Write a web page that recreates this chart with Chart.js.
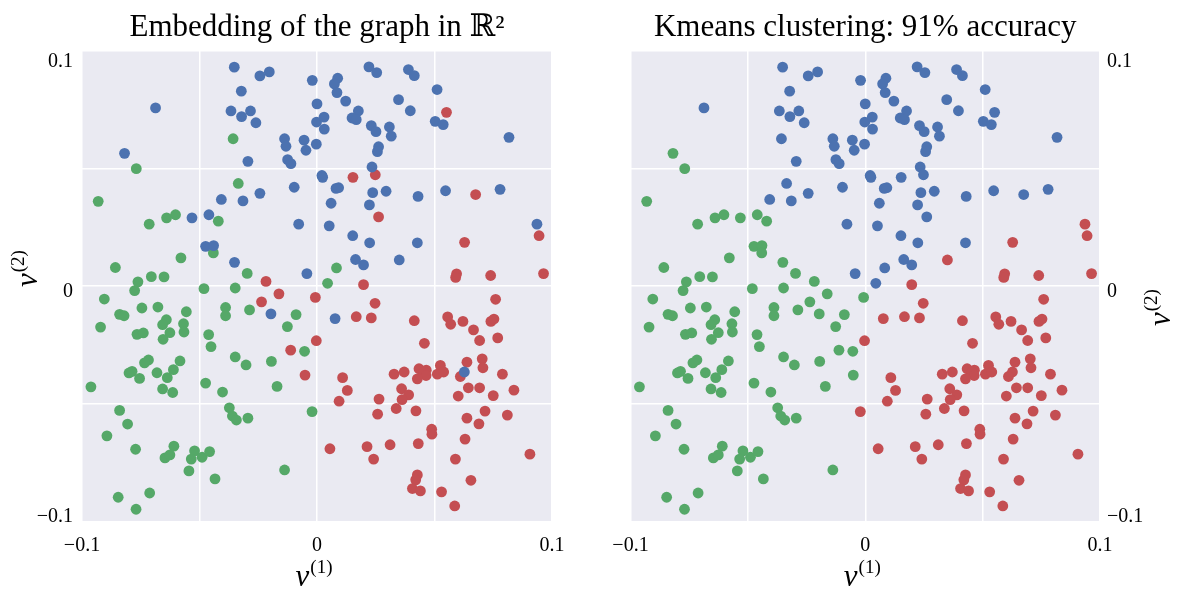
<!DOCTYPE html>
<html>
<head>
<meta charset="utf-8">
<script src="https://cdn.jsdelivr.net/npm/chart.js@4/dist/chart.umd.min.js"></script>
<style>
html, body { margin: 0; padding: 0; background: #ffffff; }
#wrap { position: relative; width: 1178px; height: 590px; overflow: hidden; }
.cell { position: absolute; top: 0; width: 589px; height: 590px; }
</style>
</head>
<body>
<div id="wrap">
  <div class="cell" style="left:0px"><canvas id="c1" width="589" height="590"></canvas></div>
  <div class="cell" style="left:589px"><canvas id="c2" width="589" height="590"></canvas></div>
</div>
<script>
// ---------------- data ----------------
const chartTitles = ['Embedding of the graph in \u211D\u00B2', 'Kmeans clustering: 91% accuracy'];
const tickValues = [-0.1, 0, 0.1];
const clusterNames = ['cluster 1', 'cluster 2', 'cluster 3'];

// true cluster 1 (blue)
const blueX = [
  -0.0352,-0.0243,-0.0203,-0.0020,-0.0687,-0.0322,0.0000,-0.0366,-0.0283,-0.0321,
  -0.0260,-0.0002,-0.0138,-0.0055,-0.0003,-0.0132,-0.0047,-0.0819,-0.0294,-0.0125,
  -0.0111,-0.0097,-0.0243,-0.0407,-0.0315,-0.0532,-0.0460,-0.0078,-0.0474,-0.0440,
  -0.0351,-0.0043,
  0.0221,0.0254,0.0389,0.0414,0.0088,0.0074,0.0085,0.0511,0.0122,0.0347,
  0.0176,0.0397,0.0030,0.0149,0.0167,0.0231,0.0251,0.0308,0.0316,0.0031,
  0.0503,0.0537,0.0817,0.0262,0.0257,0.0234,0.0021,0.0024,0.0081,0.0092,
  0.0237,0.0294,0.0430,0.0547,0.0779,0.0060,0.0223,0.0052,0.0152,0.0224,
  0.0427,0.0936,0.0164,0.0198,0.0350,-0.0196,0.0077,0.0627
];
const blueY = [
  0.0930,0.0893,0.0910,0.0874,0.0757,0.0828,0.0774,0.0744,0.0744,0.0720,
  0.0694,0.0697,0.0626,0.0620,0.0603,0.0594,0.0577,0.0564,0.0530,0.0537,
  0.0520,0.0420,0.0394,0.0368,0.0362,0.0290,0.0303,0.0263,0.0169,0.0172,
  0.0101,0.0053,
  0.0931,0.0907,0.0920,0.0894,0.0883,0.0859,0.0822,0.0835,0.0786,0.0792,
  0.0744,0.0745,0.0718,0.0714,0.0707,0.0682,0.0656,0.0676,0.0637,0.0667,
  0.0700,0.0686,0.0632,0.0592,0.0571,0.0506,0.0470,0.0462,0.0415,0.0418,
  0.0397,0.0403,0.0381,0.0405,0.0411,0.0352,0.0345,0.0256,0.0214,0.0184,
  0.0184,0.0263,0.0113,0.0090,0.0111,-0.0118,-0.0138,-0.0365
];
const blueKmeans = [
  0,0,0,0,0,0,0,0,0,0, 0,0,0,0,0,0,0,1,0,0, 0,0,0,0,0,1,1,0,1,1, 1,0,
  0,0,0,0,0,0,0,0,0,0, 0,0,0,0,0,0,0,0,0,0, 0,0,0,0,0,0,0,0,0,0,
  0,0,0,0,0,0,0,0,0,0, 0,2,0,0,2,1,2,2
];

// true cluster 2 (green)
const greenX = [
  -0.0357,-0.0769,-0.0335,-0.0931,-0.0640,-0.0602,-0.0714,-0.0420,-0.0441,-0.0579,
  -0.0858,-0.0705,-0.0651,-0.0762,-0.0297,0.0083,0.0045,
  -0.0776,-0.0481,-0.0348,-0.0905,-0.0840,-0.0821,-0.0745,-0.0677,-0.0556,-0.0921,
  -0.0641,-0.0657,-0.0568,-0.0566,-0.0766,-0.0739,-0.0626,-0.0655,-0.0389,-0.0389,
  -0.0287,-0.0089,-0.0126,-0.0461,-0.0451,-0.0053,-0.0348,-0.0302,-0.0194,-0.0717,
  -0.0734,-0.0583,-0.0611,-0.0800,-0.0787,-0.0681,-0.0755,-0.0637,-0.0962,-0.0657,
  -0.0614,-0.0474,-0.0402,-0.0170,-0.0840,-0.0806,-0.0894,-0.0772,-0.0609,-0.0647,
  -0.0626,-0.0521,-0.0535,-0.0489,-0.0457,-0.0545,-0.0434,-0.0373,-0.0360,-0.0343,
  -0.0294,-0.0021,-0.0138,-0.0846,-0.0712,-0.0770
];
const greenY = [
  0.0626,0.0499,0.0436,0.0360,0.0290,0.0303,0.0263,0.0276,0.0141,0.0120,
  0.0079,0.0040,0.0039,0.0018,0.0054,0.0077,0.0012,
  -0.0019,-0.0011,-0.0008,-0.0055,-0.0120,-0.0126,-0.0093,-0.0089,-0.0109,-0.0174,
  -0.0143,-0.0164,-0.0160,-0.0195,-0.0205,-0.0199,-0.0198,-0.0226,-0.0091,-0.0126,
  -0.0101,-0.0121,-0.0172,-0.0206,-0.0257,-0.0277,-0.0301,-0.0335,-0.0320,-0.0314,
  -0.0326,-0.0318,-0.0355,-0.0369,-0.0362,-0.0368,-0.0392,-0.0389,-0.0428,-0.0437,
  -0.0452,-0.0412,-0.0450,-0.0426,-0.0528,-0.0586,-0.0636,-0.0693,-0.0680,-0.0730,
  -0.0717,-0.0700,-0.0735,-0.0727,-0.0703,-0.0785,-0.0819,-0.0517,-0.0552,-0.0569,
  -0.0561,-0.0533,-0.0781,-0.0897,-0.0879,-0.0948
];
const greenKmeans = [
  0,1,0,1,1,1,1,1,1,1, 1,1,1,1,1,0,0,
  1,1,1,1,1,1,1,1,1,1, 1,1,1,1,1,1,1,1,1,1, 1,1,1,1,1,1,1,1,1,1,
  1,1,1,1,1,1,1,1,1,1, 1,1,1,1,1,1,1,1,1,1, 1,1,1,1,1,1,1,1,1,1,
  1,2,1,1,1,1
];

// true cluster 3 (red)
const redX = [
  -0.0217,0.0551,0.0153,0.0248,0.0675,0.0262,0.0628,0.0945,0.0594,0.0590,
  0.0739,0.0964,0.0198,-0.0236,-0.0162,-0.0007,-0.0003,-0.0112,-0.0051,
  0.0247,0.0760,0.0167,0.0231,0.0414,0.0556,0.0569,0.0621,0.0666,0.0740,
  0.0753,0.0692,0.0769,0.0457,0.0703,0.0638,0.0706,0.0525,0.0434,0.0465,
  0.0454,0.0464,0.0427,0.0512,0.0539,0.0610,0.0328,0.0371,0.0789,0.0109,
  0.0129,0.0094,0.0264,0.0360,0.0390,0.0362,0.0337,0.0421,0.0258,0.0644,
  0.0692,0.0601,0.0750,0.0838,0.0715,0.0638,0.0689,0.0810,0.0488,0.0489,
  0.0630,0.0055,0.0213,0.0311,0.0431,0.0241,0.0589,0.0906,0.0427,0.0420,
  0.0406,0.0440,0.0530,0.0655,0.0586
];
const redY = [
  0.0020,0.0738,0.0462,0.0473,0.0389,0.0294,0.0186,0.0214,0.0052,0.0037,
  0.0045,0.0053,0.0006,-0.0067,-0.0033,-0.0048,-0.0232,-0.0272,-0.0378,
  -0.0073,-0.0056,-0.0130,-0.0135,-0.0147,-0.0131,-0.0162,-0.0150,-0.0186,-0.0150,
  -0.0140,-0.0231,-0.0220,-0.0243,-0.0309,-0.0323,-0.0347,-0.0337,-0.0351,-0.0357,
  -0.0365,-0.0380,-0.0394,-0.0374,-0.0365,-0.0384,-0.0374,-0.0365,-0.0374,-0.0389,
  -0.0443,-0.0489,-0.0480,-0.0436,-0.0462,-0.0482,-0.0520,-0.0530,-0.0544,-0.0432,
  -0.0432,-0.0467,-0.0465,-0.0442,-0.0531,-0.0561,-0.0585,-0.0548,-0.0608,-0.0629,
  -0.0650,-0.0691,-0.0682,-0.0674,-0.0669,-0.0735,-0.0735,-0.0714,-0.0802,-0.0823,
  -0.0860,-0.0870,-0.0874,-0.0825,-0.0934
];
const redKmeans = [
  1,0,0,0,0,0,2,2,2,2, 2,2,2,1,1,1,2,1,1,
  2,2,2,2,2,2,2,2,2,2, 2,2,2,2,2,2,2,2,2,2, 2,2,2,2,2,2,2,2,2,2,
  2,2,2,2,2,2,2,2,2,2, 2,2,2,2,2,2,2,2,2,2, 2,2,2,2,2,2,2,2,2,2,
  2,2,2,2,2
];

// ---------------- styling ----------------
const clusterColors = ['#4C72B0', '#55A868', '#C44E52'];
const FONT = '"Liberation Serif", "DejaVu Serif", serif';

const allX = blueX.concat(greenX, redX);
const allY = blueY.concat(greenY, redY);
const trueLabels = blueX.map(() => 0).concat(greenX.map(() => 1), redX.map(() => 2));
const kmLabels = blueKmeans.concat(greenKmeans, redKmeans);

function tickLabel(v) {
  const r = Math.round(v * 20);
  if (r % 2 !== 0) return '';
  if (r === 0) return '0';
  return (r < 0 ? '\u2212' : '') + (Math.abs(r) / 20).toString();
}

function buildDatasets(labels) {
  return [0, 1, 2].map(c => ({
    label: clusterNames[c],
    data: allX.map((x, i) => ({ x: x, y: allY[i], c: labels[i] })).filter(p => p.c === c),
    backgroundColor: clusterColors[c],
    borderWidth: 0,
    pointRadius: 5.4,
    pointHoverRadius: 5.4
  }));
}

const bgPlugin = {
  id: 'plotBg',
  beforeDraw(chart) {
    const { ctx, chartArea: a } = chart;
    ctx.save();
    ctx.fillStyle = '#EAEAF2';
    ctx.fillRect(a.left, a.top, a.right - a.left, a.bottom - a.top);
    ctx.restore();
  }
};

function drawNuLabel(ctx, sup) {
  ctx.font = 'italic 31px ' + FONT;
  ctx.textAlign = 'left';
  ctx.textBaseline = 'alphabetic';
  ctx.fillText('\u03BD', 0, 0);
  const w = ctx.measureText('\u03BD').width;
  ctx.font = '19px ' + FONT;
  ctx.fillText('(' + sup + ')', w + 1, -13);
}
function nuWidth(ctx, sup) {
  ctx.font = 'italic 31px ' + FONT;
  const w = ctx.measureText('\u03BD').width;
  ctx.font = '19px ' + FONT;
  return w + 1 + ctx.measureText('(' + sup + ')').width;
}

function labelPlugin(side) {
  return {
    id: 'labels_' + side,
    afterDraw(chart) {
      const { ctx, chartArea: a, scales } = chart;
      ctx.save();
      ctx.fillStyle = '#000';
      // y tick labels
      ctx.font = '20px ' + FONT;
      ctx.textBaseline = 'alphabetic';
      const offs = { '-2': 0, '0': 10.5, '2': 16 };
      tickValues.forEach(v => {
        const y = scales.y.getPixelForValue(v) + offs[String(Math.round(v * 20))];
        if (side === 'left') { ctx.textAlign = 'right'; ctx.fillText(tickLabel(v), a.left - 9, y); }
        else { ctx.textAlign = 'left'; ctx.fillText(tickLabel(v), a.right + 7, y); }
      });
      // x axis title
      const cx = (a.left + a.right) / 2 - 3;
      const wx = nuWidth(ctx, '1');
      ctx.save();
      ctx.translate(cx - wx / 2, 586);
      drawNuLabel(ctx, '1');
      ctx.restore();
      // y axis title (rotated)
      const cy = (a.top + a.bottom) / 2;
      ctx.save();
      if (side === 'left') ctx.translate(a.left - 45, cy + 1);
      else ctx.translate(a.right + 70, cy + 40);
      ctx.rotate(-Math.PI / 2);
      drawNuLabel(ctx, '2');
      ctx.restore();
      ctx.restore();
    }
  };
}

function makeChart(id, title, labels, side) {
  const left = side === 'left';
  const gridStyle = { color: '#ffffff', lineWidth: 1.5, drawTicks: false };
  return new Chart(document.getElementById(id), {
    type: 'scatter',
    data: { datasets: buildDatasets(labels) },
    options: {
      responsive: false,
      animation: false,
      devicePixelRatio: 1,
      layout: { padding: { left: left ? 0 : 41.5, right: left ? 37 : 0, top: 0, bottom: 0 } },
      plugins: {
        legend: { display: false },
        tooltip: { enabled: false },
        title: {
          display: true, text: title, fullSize: false, color: '#000',
          font: { family: FONT, size: 31, weight: 'normal', lineHeight: 1.2 },
          padding: { top: 9.4, bottom: 4.1 }
        }
      },
      scales: {
        x: {
          type: 'linear', min: -0.1, max: 0.1,
          ticks: { stepSize: 0.05, callback: tickLabel, color: '#000', font: { family: FONT, size: 20 },
                   padding: 12, maxRotation: 0, autoSkip: false },
          grid: gridStyle, border: { display: false },
          afterFit(s) { s.height = 68.5; }
        },
        y: {
          type: 'linear', position: left ? 'left' : 'right', min: -0.1, max: 0.1,
          ticks: { stepSize: 0.05, display: false },
          grid: gridStyle, border: { display: false },
          afterFit(s) { s.width = left ? 82 : 78; }
        }
      }
    },
    plugins: [bgPlugin, labelPlugin(side)]
  });
}

makeChart('c1', chartTitles[0], trueLabels, 'left');
makeChart('c2', chartTitles[1], kmLabels, 'right');
</script>
</body>
</html>
